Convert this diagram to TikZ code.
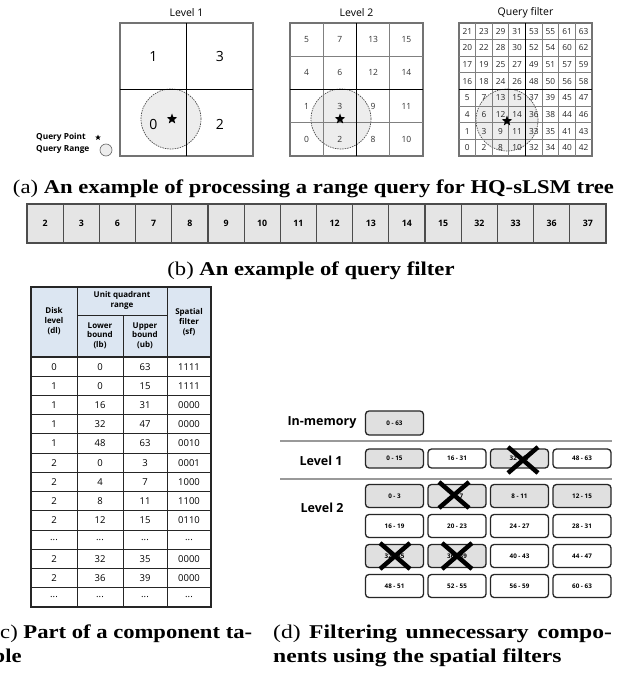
\documentclass[tikz,border=0pt]{standalone}
\usepackage{fontspec}
\setmainfont{Liberation Serif}
\newfontfamily\uifont{Open Sans}
\usetikzlibrary{shapes.geometric}
\definecolor{hdrblue}{RGB}{220,230,242}
\newcommand{\mydots}{...}
\newcommand{\capx}[1]{\scalebox{1.16}[1]{#1}}
\newcommand{\capd}[1]{\scalebox{1.21}[1]{#1}}
\begin{document}
\begin{tikzpicture}[x=1pt,y=-1pt]
\tikzset{
  every node/.style={inner sep=0pt},
  lvltitle/.style={font=\uifont\fontsize{10.5}{12}\selectfont},
  bignum/.style={font=\uifont\fontsize{14}{16}\selectfont},
  midnum/.style={font=\uifont\fontsize{8.5}{10}\selectfont, text=black!80},
  smallnum/.style={font=\uifont\fontsize{8.3}{10}\selectfont, text=black!85},
  outerline/.style={draw=black!55, line width=1.2pt},
  cellline/.style={draw=black!50, line width=0.9pt},
  midline/.style={draw=black, line width=1.4pt},
  qrange/.style={circle, draw=black!70, fill=black!7, dash pattern=on 1.5pt off 1pt, line width=0.7pt},
  starmark/.style={star, star points=5, star point ratio=2.4, fill=black, minimum size=#1},
  legendtext/.style={font=\uifont\bfseries\fontsize{8.3}{9}\selectfont, anchor=west},
  fbox/.style={draw=black!70, line width=1.2pt, fill=black!10, minimum width=36.19pt, minimum height=39pt, font=\uifont\bfseries\fontsize{8.8}{10}\selectfont},
  hdr/.style={font=\uifont\bfseries\fontsize{8}{9.6}\selectfont, align=center},
  td/.style={font=\uifont\fontsize{9.5}{11}\selectfont},
  tline/.style={draw=black!85, line width=1pt},
  lvl/.style={font=\uifont\bfseries\fontsize{12.5}{14}\selectfont},
  dbox/.style={draw=black!85, line width=1.3pt, rounded corners=3.5pt, minimum width=58pt, font=\uifont\bfseries\fontsize{6.3}{8}\selectfont},
  sepline/.style={draw=black!40, line width=1.2pt},
  xmark/.style={line width=4.5pt, draw=black},
  captext/.style={font=\fontsize{19.5}{23}\selectfont},
}
\useasboundingbox (0,0) rectangle (624,674);
\clip (0,0) rectangle (624,674);
\fill[white] (0,0) rectangle (624,674);

% ---------- (a) Level 1 ----------
\node[lvltitle] (t1) at (186.5,13) {Level 1};
\node[qrange, minimum size=60pt] (r1) at (171,119) {};
\draw[outerline] (120,23) rectangle (253,156);
\draw[midline] (186.5,23) -- (186.5,156) (120,89.5) -- (253,89.5);
\node[bignum] (na1) at (153.25,57) {1};
\node[bignum] (na3) at (219.75,57) {3};
\node[bignum] (na0) at (153.25,124) {0};
\node[bignum] (na2) at (219.75,124) {2};
\node[starmark=11pt] (s1) at (172,119) {};

% legend
\node[legendtext] (lq1) at (36,137) {Query Point};
\node[starmark=6pt] (ls) at (98,137.5) {};
\node[legendtext] (lq2) at (36,149.5) {Query Range};
\node[circle, draw=black!60, fill=black!7, line width=0.6pt, minimum size=12pt] (lr) at (106,150) {};

% ---------- (a) Level 2 ----------
\node[lvltitle] (t2) at (356.5,13) {Level 2};
\node[qrange, minimum size=60pt] (r2) at (341,119) {};
\draw[outerline] (290,23) rectangle (423,156);
\foreach \i in {1,3} {
  \draw[cellline] ({290+\i*33.25},23) -- ({290+\i*33.25},156) (290,{23+\i*33.25}) -- (423,{23+\i*33.25});
}
\draw[midline] (356.5,23) -- (356.5,156) (290,89.5) -- (423,89.5);
\foreach \v [count=\k from 0] in {5,7,13,15,4,6,12,14,1,3,9,11,0,2,8,10} {
  \pgfmathsetmacro\cx{290+(mod(\k,4)+0.5)*33.25}
  \pgfmathsetmacro\cy{23+(floor(\k/4)+0.5)*33.25}
  \node[midnum] (m\k) at (\cx,\cy) {\v};
}
\node[starmark=11pt] (s2) at (340,119) {};

% ---------- (a) Query filter ----------
\node[lvltitle] (t3) at (525.5,13) {Query filter};
\node[qrange, minimum size=62pt] (r3) at (507,120) {};
\draw[outerline] (459,23) rectangle (592,156);
\foreach \i in {1,2,3,5,6,7} {
  \draw[cellline, line width=0.8pt] ({459+\i*16.625},23) -- ({459+\i*16.625},156) (459,{23+\i*16.625}) -- (592,{23+\i*16.625});
}
\draw[midline] (525.5,23) -- (525.5,156) (459,89.5) -- (592,89.5);
\foreach \v [count=\k from 0] in {21,23,29,31,53,55,61,63,20,22,28,30,52,54,60,62,17,19,25,27,49,51,57,59,16,18,24,26,48,50,56,58,5,7,13,15,37,39,45,47,4,6,12,14,36,38,44,46,1,3,9,11,33,35,41,43,0,2,8,10,32,34,40,42} {
  \pgfmathsetmacro\cx{459+(mod(\k,8)+0.5)*16.625}
  \pgfmathsetmacro\cy{23+(floor(\k/8)+0.5)*16.625}
  \node[smallnum] (f\k) at (\cx,\cy) {\v};
}
\node[starmark=11pt] (s3) at (507,121) {};

\node[captext, anchor=base] (ca) at (313.5,193) {\capx{(a) \textbf{An example of processing a range query for HQ-sLSM tree}}};

% ---------- (b) ----------
\foreach \v [count=\k from 0] in {2,3,6,7,8,9,10,11,12,13,14,15,32,33,36,37} {
  \pgfmathsetmacro\cx{27+(\k+0.5)*36.1875}
  \node[fbox] (q\k) at (\cx,223.5) {\v};
}
\node[captext, anchor=base] (cb) at (311,275) {\capx{(b) \textbf{An example of query filter}}};

% ---------- (c) table ----------
\fill[hdrblue] (31,287) rectangle (211,357);
\foreach \k in {1,...,12} {
  \pgfmathsetmacro\yy{357+\k*19.2308}
  \draw[tline] (31,\yy) -- (211,\yy);
}
\draw[tline] (77,315) -- (167,315);
\draw[tline] (77,287) -- (77,607) (167,287) -- (167,607) (123,315) -- (123,607);
\draw[tline, line width=1.5pt] (31,357) -- (211,357);
\draw[tline, line width=1.6pt] (31,287) rectangle (211,607);
\node[hdr] (h1) at (54,321) {Disk\\level\\(dl)};
\node[hdr] (h2) at (122,300.5) {Unit quadrant\\range};
\node[hdr] (h3) at (100,335.5) {Lower\\bound\\(lb)};
\node[hdr] (h4) at (145,335.5) {Upper\\bound\\(ub)};
\node[hdr] (h5) at (189,322) {Spatial\\filter\\(sf)};
\foreach \a/\b/\c/\d [count=\k from 0] in {0/0/63/1111,1/0/15/1111,1/16/31/0000,1/32/47/0000,1/48/63/0010,2/0/3/0001,2/4/7/1000,2/8/11/1100,2/12/15/0110,\mydots/\mydots/\mydots/\mydots,2/32/35/0000,2/36/39/0000,\mydots/\mydots/\mydots/\mydots} {
  \pgfmathsetmacro\yy{357+(\k+0.5)*19.2308}
  \node[td] (da\k) at (54,\yy) {\a};
  \node[td] (db\k) at (100,\yy) {\b};
  \node[td] (dc\k) at (145,\yy) {\c};
  \node[td] (dd\k) at (189,\yy) {\d};
}

% ---------- (d) ----------
\node[lvl] (lm) at (322,423) {In-memory};
\node[dbox, fill=black!12, minimum height=24pt] (b00) at (394.5,423) {0 - 63};
\draw[sepline] (280,441) -- (612,441);
\draw[sepline] (280,479) -- (612,479);
\node[lvl] (l1) at (321,461) {Level 1};
\foreach \t/\f [count=\k from 0] in {0 - 15/black!12, 16 - 31/white, 32 - 47/black!12, 48 - 63/white} {
  \pgfmathsetmacro\cx{394.5+\k*62.5}
  \node[dbox, fill=\f, minimum height=19pt] (a\k) at (\cx,458.5) {\t};
}
\node[lvl] (l2) at (322,508) {Level 2};
\foreach \t/\f [count=\k from 0] in {0 - 3/black!12, 4 - 7/black!12, 8 - 11/black!12, 12 - 15/black!12, 16 - 19/white, 20 - 23/white, 24 - 27/white, 28 - 31/white, 32 - 35/black!12, 36 - 39/black!12, 40 - 43/white, 44 - 47/white, 48 - 51/white, 52 - 55/white, 56 - 59/white, 60 - 63/white} {
  \pgfmathsetmacro\cx{394.5+mod(\k,4)*62.5}
  \pgfmathsetmacro\cy{496+floor(\k/4)*30}
  \node[dbox, fill=\f, minimum height=23pt] (c\k) at (\cx,\cy) {\t};
}
\coordinate (x1) at (523,460);
\coordinate (x2) at (454,495);
\coordinate (x3) at (395,556);
\coordinate (x4) at (457,556);
\foreach \p in {x1,x2,x3,x4} {
  \draw[xmark] ([shift={(-15,-13)}]\p) -- ([shift={(15,13)}]\p) ([shift={(-15,13)}]\p) -- ([shift={(15,-13)}]\p);
}

% captions (c), (d)
\node[captext, anchor=base west] (cc1) at (-7.5,638) {\capx{(c) \textbf{Part of a component ta-}}};
\node[captext, anchor=base west] (cc2) at (-7.5,662) {\capx{\textbf{ble}}};
\node[captext, anchor=base west] (cd1) at (273,638) {\capd{\makebox[280pt][s]{(d) \textbf{Filtering unnecessary compo-}}}};
\node[captext, anchor=base west] (cd2) at (273,662) {\capd{\textbf{nents using the spatial filters}}};
\end{tikzpicture}
\end{document}
